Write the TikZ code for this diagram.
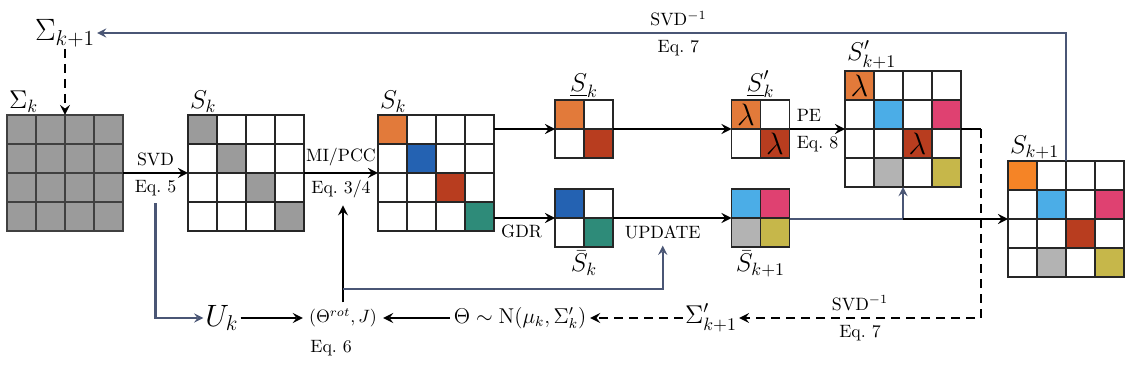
\documentclass[tikz,border=0pt]{standalone}
\usepackage{amsmath}
\usepackage{xcolor}
\usepackage{tikz}
\usetikzlibrary{arrows, positioning, calc}

\definecolor{lineblue}{HTML}{4A5675}
\definecolor{orangeA}{HTML}{E27A3A}
\definecolor{orangeB}{HTML}{F58426}
\definecolor{darkblue}{HTML}{2462B2}
\definecolor{rust}{HTML}{B83D1F}
\definecolor{teal}{HTML}{2E8B79}
\definecolor{skyblue}{HTML}{4BADE7}
\definecolor{pink}{HTML}{DF4171}
\definecolor{lgray}{HTML}{B3B3B3}
\definecolor{olive}{HTML}{C6B74A}
\definecolor{mgray}{HTML}{9B9B9B}

\tikzstyle{mat4} = [rectangle, draw=black!85, inner sep=0pt, outer sep=0pt, minimum size=64.96pt]
\tikzstyle{mat2} = [rectangle, draw=black!85, inner sep=0pt, outer sep=0pt, minimum size=32.48pt]
\tikzstyle{cellline} = [draw=black!85, line width=0.85pt]
\tikzstyle{arrow} = [line width=1.45pt,->,>=stealth]
\tikzstyle{bluearrow} = [line width=1.25pt,draw=lineblue,->,>=stealth]
\tikzstyle{dasharrow} = [line width=1.45pt,dash pattern=on 5pt off 3.4pt,->,>=stealth]

% one cell of a matrix node: node, column, row, colour
\newcommand{\paint}[4]{\fill[#4] ($(#1.north west)+(#2*29,#3*29)$) rectangle ++(29,29);}
% cell lines of an n x n matrix node
\newcommand{\gridcells}[3][cellline]{%
  \foreach \i in {1,...,#3}
    \foreach \j in {1,...,#3}
      \draw[#1] ($(#2.north west)+(\i*29-29,\j*29-29)$) rectangle ++(29,29);
}

\begin{document}
\begin{tikzpicture}[x=0.56pt, y=-0.56pt]
  \useasboundingbox (0,0) rectangle (1129,367);

  % Matrices
  \node[mat4, fill=mgray] (Sigk) at (65,173) {};
  \node[mat4] (Sk) at (246,173) {};
  \node[mat4] (Skc) at (436,173) {};
  \node[mat2] (Skt) at (584,129) {};
  \node[mat2] (Skb) at (584,218) {};
  \node[mat2] (Spk) at (760.5,129) {};
  \node[mat2] (Sbk) at (760.5,218) {};
  \node[mat4] (Spk1) at (903,129) {};
  \node[mat4] (Sk1) at (1066,219) {};

  % Coloured cells
  \foreach \c in {0,...,3} {\paint{Sk}{\c}{\c}{mgray}}
  \paint{Skc}{0}{0}{orangeA} \paint{Skc}{1}{1}{darkblue}
  \paint{Skc}{2}{2}{rust} \paint{Skc}{3}{3}{teal}
  \paint{Skt}{0}{0}{orangeA} \paint{Skt}{1}{1}{rust}
  \paint{Skb}{0}{0}{darkblue} \paint{Skb}{1}{1}{teal}
  \paint{Spk}{0}{0}{orangeA} \paint{Spk}{1}{1}{rust}
  \paint{Sbk}{0}{0}{skyblue} \paint{Sbk}{1}{0}{pink}
  \paint{Sbk}{0}{1}{lgray} \paint{Sbk}{1}{1}{olive}
  \paint{Spk1}{0}{0}{orangeA} \paint{Spk1}{1}{1}{skyblue}
  \paint{Spk1}{3}{1}{pink} \paint{Spk1}{2}{2}{rust}
  \paint{Spk1}{1}{3}{lgray} \paint{Spk1}{3}{3}{olive}
  \paint{Sk1}{0}{0}{orangeB} \paint{Sk1}{1}{1}{skyblue}
  \paint{Sk1}{3}{1}{pink} \paint{Sk1}{2}{2}{rust}
  \paint{Sk1}{1}{3}{lgray} \paint{Sk1}{3}{3}{olive}

  % Cell lines
  \gridcells[draw=black!75, line width=0.85pt]{Sigk}{4}
  \gridcells{Sk}{4}
  \gridcells{Skc}{4}
  \gridcells{Skt}{2}
  \gridcells{Skb}{2}
  \gridcells{Spk}{2}
  \gridcells{Sbk}{2}
  \gridcells{Spk1}{4}
  \gridcells{Sk1}{4}

  % Lambdas
  \node (lamA) at ($(Spk.north west)+(14.5,14.5)$) {\LARGE$\lambda$};
  \node (lamB) at ($(Spk.north west)+(43.5,43.5)$) {\LARGE$\lambda$};
  \node (lamC) at ($(Spk1.north west)+(14.5,14.5)$) {\LARGE$\lambda$};
  \node (lamD) at ($(Spk1.north west)+(72.5,72.5)$) {\LARGE$\lambda$};

  % Matrix labels
  \node[above right, inner sep=1pt] (lSigk) at (Sigk.north west) {\Large$\Sigma_k$};
  \node[above right, inner sep=1pt] (lSk) at (Sk.north west) {\Large$S_k$};
  \node[above right, inner sep=1pt] (lSkc) at (Skc.north west) {\Large$S_k$};
  \node[above, inner sep=1pt] (lSkt) at (Skt.north) {\Large$\underline{S}_k$};
  \node[below=1pt, inner sep=1pt] (lSkb) at (Skb.south) {\Large$\bar{S}_k$};
  \node[above, inner sep=1pt] (lSpk) at (Spk.north) {\Large$\underline{S}'_k$};
  \node[below=1pt, inner sep=1pt] (lSbk) at (Sbk.south) {\Large$\bar{S}_{k+1}$};
  \node[above right, inner sep=1pt] (lSpk1) at (Spk1.north west) {\Large$S'_{k+1}$};
  \node[above right, inner sep=1pt] (lSk1) at (Sk1.north west) {\Large$S_{k+1}$};

  % Other nodes
  \node[inner sep=1pt] (sigk1) at (65,33) {\LARGE$\Sigma_{k+1}$};
  \node[inner sep=1pt] (Uk) at (222,318) {\LARGE$U_k$};
  \node (thJ) at (343,318) {$(\Theta^{rot}, J)$};
  \node[below right, inner sep=0pt] (eq6) at (310,340) {Eq.~6};
  \node[inner sep=2pt] (theta) at (520,318) {\large$\Theta \sim \mathrm{N}(\mu_k, \Sigma'_k)$};
  \node[inner sep=1pt] (sigp) at (711,318) {\Large$\Sigma'_{k+1}$};
  \coordinate (pe1) at (981,129);
  \coordinate (corner) at (981,318);
  \coordinate (split) at (343,289);
  \coordinate (branch) at (Spk1.south |- Sk1.west);

  % Connectors
  \draw[dasharrow] (sigk1.south) -- (Sigk.north);
  \draw[arrow] (Sigk) -- node[above] (svd) {SVD} node[below] (eq5) {Eq.~5} (Sk);
  \draw[arrow] (Sk) -- node[above] (mipcc) {MI/PCC} node[below] (eq34) {Eq.~3/4} (Skc);
  \draw[arrow] (Skc.east |- Skt.west) -- (Skt.west);
  \draw[arrow] (Skc.east |- Skb.west) -- node[pos=0, below right] (gdr) {GDR} (Skb.west);
  \draw[arrow] (Skt) -- (Spk);
  \draw[arrow] (Skb) -- node[pos=0.42, below] (update) {UPDATE} (Sbk);
  \draw[arrow] (Spk) -- node[pos=0, above right] (pe) {PE} node[pos=0, below right] (eq8) {Eq.~8} (Spk1);
  \draw[line width=1.45pt] (Spk1.east) -- (pe1);
  \draw[dasharrow] (pe1) -- (corner) -- node[above] (svdi2) {SVD$^{-1}$} node[below] (eq7b) {Eq.~7} (sigp.east);
  \draw[dasharrow] (sigp.west) -- (theta.east);
  \draw[arrow] (theta.west) -- (thJ.east);
  \draw[arrow] (Uk.east) -- (thJ.west);
  \draw[bluearrow] (eq5.south) |- (Uk.west);
  \draw[arrow] (thJ.north) -- (thJ.north |- eq34.south);
  \draw[bluearrow] (split) -| (update.south);
  \draw[line width=1.25pt, lineblue] (Sbk.east |- branch) -- (branch);
  \draw[bluearrow] (branch) -- (Spk1.south);
  \draw[arrow] (branch) -- (Sk1.west);
  \draw[bluearrow] (Sk1.north) |- node[pos=0.7, above] (svdi1) {SVD$^{-1}$} node[pos=0.7, below] (eq7a) {Eq.~7} (sigk1.east);
\end{tikzpicture}
\end{document}
